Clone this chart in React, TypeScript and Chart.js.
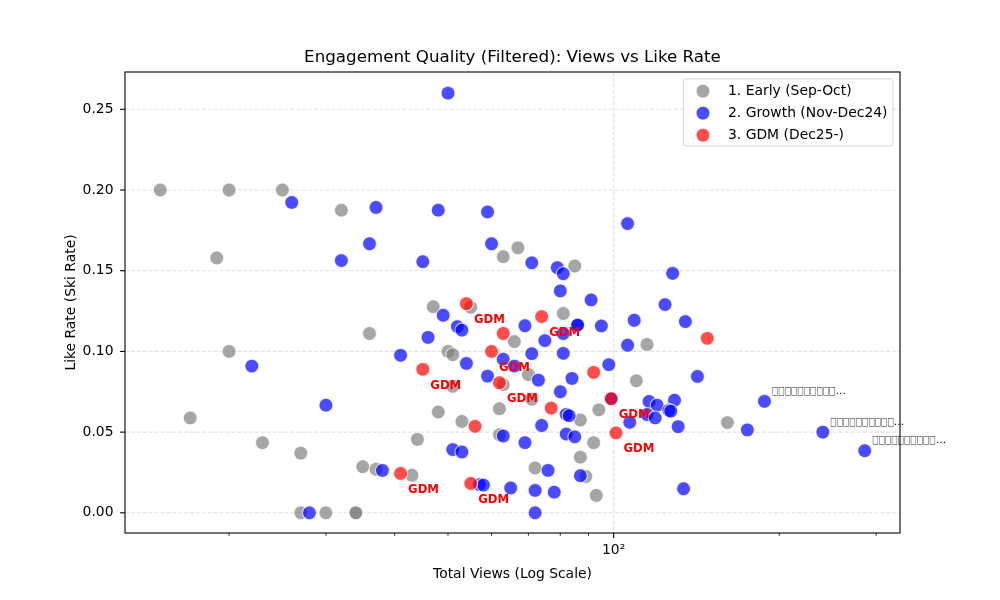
import { useEffect, useRef } from "react";
import { Chart, registerables } from "chart.js";

Chart.register(...registerables);

// ---------- data ----------
const SERIES_LABELS = ["1. Early (Sep-Oct)", "2. Growth (Nov-Dec24)", "3. GDM (Dec25-)"];

const EARLY_VIEWS = [15, 20, 25, 32, 19, 36, 20, 17, 23, 27, 35, 37, 43, 27, 30, 34, 34, 47, 55, 50, 51, 51, 63, 66, 70, 71, 48, 62, 53, 62, 44, 72, 63, 67, 85, 81, 115, 110, 87, 94, 92, 87, 89, 93, 161];
const EARLY_RATES = [0.2, 0.2, 0.2, 0.1875, 0.1579, 0.1111, 0.1, 0.0588, 0.0435, 0.037, 0.0286, 0.027, 0.0233, 0, 0, 0, 0, 0.1277, 0.1273, 0.1, 0.098, 0.0784, 0.0794, 0.1061, 0.0857, 0.0704, 0.0625, 0.0645, 0.0566, 0.0484, 0.0455, 0.0278, 0.1587, 0.1642, 0.1529, 0.1235, 0.1043, 0.0818, 0.0575, 0.0638, 0.0435, 0.0345, 0.0225, 0.0108, 0.0559];

const GROWTH_VIEWS = [26, 37, 36, 32, 41, 22, 30, 38, 28, 50, 48, 59, 106, 60, 45, 71, 79, 81, 128, 80, 91, 49, 52, 53, 46, 69, 75, 54, 63, 66, 71, 81, 59, 73, 74, 63, 69, 51, 53, 76, 57, 58, 65, 72, 78, 72, 80, 84, 82, 83, 82, 85, 87, 86, 86, 95, 81, 124, 135, 109, 106, 98, 142, 99, 116, 120, 129, 126, 127, 115, 119, 107, 131, 134, 175, 188, 240, 286];
const GROWTH_RATES = [0.1923, 0.1892, 0.1667, 0.1563, 0.0976, 0.0909, 0.0667, 0.0263, 0, 0.26, 0.1875, 0.1864, 0.1792, 0.1667, 0.1556, 0.1549, 0.1519, 0.1481, 0.1484, 0.1375, 0.1319, 0.1224, 0.1154, 0.1132, 0.1087, 0.1159, 0.1067, 0.0926, 0.0952, 0.0909, 0.0986, 0.0988, 0.0847, 0.0822, 0.0541, 0.0476, 0.0435, 0.0392, 0.0377, 0.0263, 0.0175, 0.0172, 0.0154, 0.0139, 0.0128, 0, 0.075, 0.0833, 0.061, 0.0602, 0.0488, 0.0471, 0.023, 0.1163, 0.1163, 0.1158, 0.1111, 0.129, 0.1185, 0.1193, 0.1038, 0.0918, 0.0845, 0.0707, 0.069, 0.0667, 0.0698, 0.0635, 0.063, 0.0609, 0.0588, 0.0561, 0.0534, 0.0149, 0.0514, 0.0691, 0.05, 0.0385];

const GDM_VIEWS = [54, 63, 74, 60, 45, 62, 92, 148, 99, 77, 56, 101, 41, 55];
const GDM_RATES = [0.1296, 0.1111, 0.1216, 0.1, 0.0889, 0.0806, 0.087, 0.1081, 0.0707, 0.0649, 0.0536, 0.0495, 0.0244, 0.0182];
const GDM_LABELED = [true, false, true, true, true, true, false, false, true, false, false, true, true, true];
const GDM_LABEL = "GDM";

// titles of the three most viewed videos (their glyphs are missing in the original render)
const TOP_TITLES = ["□□□□□□□□□□...", "□□□□□□□□□□...", "□□□□□□□□□□..."];

const X_MAJOR_TICKS = [100];
const X_MINOR_TICKS = [20, 30, 40, 50, 60, 70, 80, 90, 200, 300];
const Y_TICKS = [0, 0.05, 0.1, 0.15, 0.2, 0.25];
const X_MIN = 12.94;
const X_MAX = 331.5;
const Y_MIN = -0.0125;
const Y_MAX = 0.2731;

const TITLE = "Engagement Quality (Filtered): Views vs Like Rate";
const X_TITLE = "Total Views (Log Scale)";
const Y_TITLE = "Like Rate (Ski Rate)";

// ---------- style ----------
const FONT = "'DejaVu Sans', sans-serif";
const COLORS = ["rgba(128,128,128,0.7)", "rgba(0,0,255,0.7)", "rgba(255,0,0,0.7)"];
const EDGE = "rgba(255,255,255,0.7)";
const GRID = "rgba(176,176,176,0.35)";
const RADIUS = 6.95;
const EDGE_W = 1.1;
const BOX_ADVANCE = 6.35; // width of each missing-glyph box in the reference

const toPoints = (xs: number[], ys: number[]) => xs.map((x, i) => ({ x, y: ys[i] }));

const decorPlugin = {
  id: "decor",
  beforeDatasetsDraw(chart: any) {
    const { ctx, chartArea: a, scales } = chart;
    const xs = scales.x, ys = scales.y;
    ctx.save();
    ctx.strokeStyle = GRID;
    ctx.lineWidth = 1.1;
    ctx.setLineDash([4.1, 1.8]);
    for (const v of Y_TICKS) {
      const py = ys.getPixelForValue(v);
      ctx.beginPath(); ctx.moveTo(a.left, py); ctx.lineTo(a.right, py); ctx.stroke();
    }
    for (const v of X_MAJOR_TICKS) {
      const px = xs.getPixelForValue(v);
      ctx.beginPath(); ctx.moveTo(px, a.top); ctx.lineTo(px, a.bottom); ctx.stroke();
    }
    ctx.restore();
  },
  afterDatasetsDraw(chart: any) {
    const { ctx, scales } = chart;
    const xs = scales.x, ys = scales.y;
    ctx.save();
    ctx.font = `bold 11.7px ${FONT}`;
    ctx.fillStyle = "red";
    ctx.textAlign = "left";
    ctx.textBaseline = "middle";
    GDM_VIEWS.forEach((v, i) => {
      if (!GDM_LABELED[i]) return;
      const px = xs.getPixelForValue(v);
      const py = ys.getPixelForValue(GDM_RATES[i]);
      ctx.fillText(GDM_LABEL, px + 7.5, py + 16.5);
    });
    // the three most viewed videos get their (truncated) title
    const all: { x: number; y: number }[] = [
      ...toPoints(EARLY_VIEWS, EARLY_RATES),
      ...toPoints(GROWTH_VIEWS, GROWTH_RATES),
      ...toPoints(GDM_VIEWS, GDM_RATES),
    ].sort((p, q) => q.x - p.x);
    ctx.fillStyle = "#111";
    ctx.font = `11.1px ${FONT}`;
    all.slice(0, TOP_TITLES.length).forEach((p, k) => {
      const px = xs.getPixelForValue(p.x) + 7.5;
      const py = ys.getPixelForValue(p.y) - 10.5;
      const t = TOP_TITLES[k];
      const cut = t.endsWith("...") ? t.length - 3 : t.length;
      const head = t.slice(0, cut);
      const tail = t.slice(cut);
      const hw = ctx.measureText(head).width;
      const target = BOX_ADVANCE * head.length;
      const sx = hw > 0 ? target / hw : 1;
      ctx.save();
      ctx.translate(px, py);
      ctx.scale(sx, 1);
      ctx.fillText(head, 0, 0);
      ctx.restore();
      ctx.fillText(tail, px + target, py);
    });
    ctx.restore();
  },
  afterDraw(chart: any) {
    const { ctx, chartArea: a, scales } = chart;
    const xs = scales.x, ys = scales.y;
    ctx.save();
    // title
    ctx.font = `16.7px ${FONT}`;
    ctx.fillStyle = "#000";
    ctx.textAlign = "center";
    ctx.textBaseline = "middle";
    ctx.fillText(TITLE, (a.left + a.right) / 2, 58);
    // spines
    ctx.strokeStyle = "#000";
    ctx.lineWidth = 1.1;
    ctx.strokeRect(a.left, a.top, a.right - a.left, a.bottom - a.top);
    // tick marks
    ctx.lineWidth = 1.1;
    for (const v of Y_TICKS) {
      const py = ys.getPixelForValue(v);
      ctx.beginPath(); ctx.moveTo(a.left - 4.9, py); ctx.lineTo(a.left, py); ctx.stroke();
    }
    for (const v of X_MAJOR_TICKS) {
      const px = xs.getPixelForValue(v);
      ctx.beginPath(); ctx.moveTo(px, a.bottom); ctx.lineTo(px, a.bottom + 4.9); ctx.stroke();
    }
    ctx.lineWidth = 0.8;
    for (const v of X_MINOR_TICKS) {
      const px = xs.getPixelForValue(v);
      ctx.beginPath(); ctx.moveTo(px, a.bottom); ctx.lineTo(px, a.bottom + 2.8); ctx.stroke();
    }
    // legend
    const fs = 13.9;
    ctx.font = `${fs}px ${FONT}`;
    const maxW = Math.max(...SERIES_LABELS.map((s) => ctx.measureText(s).width));
    const w = 44.5 + maxW + 5.6;
    const h = 67;
    const lx = a.right - 6.9 - w;
    const ly = a.top + 6.9;
    ctx.beginPath();
    ctx.roundRect(lx, ly, w, h, 2.8);
    ctx.fillStyle = "rgba(255,255,255,0.8)";
    ctx.fill();
    ctx.strokeStyle = "rgba(204,204,204,0.8)";
    ctx.lineWidth = 1;
    ctx.stroke();
    SERIES_LABELS.forEach((s, i) => {
      const cy = ly + 12.2 + i * 22;
      ctx.beginPath();
      ctx.arc(lx + 19.5, cy, RADIUS, 0, Math.PI * 2);
      ctx.fillStyle = COLORS[i];
      ctx.fill();
      ctx.strokeStyle = EDGE;
      ctx.lineWidth = EDGE_W;
      ctx.stroke();
      ctx.fillStyle = "#000";
      ctx.textAlign = "left";
      ctx.textBaseline = "middle";
      ctx.fillText(s, lx + 44.5, cy + 0.5);
    });
    ctx.restore();
  },
};

export default function App() {
  const ref = useRef<HTMLCanvasElement | null>(null);

  useEffect(() => {
    if (!ref.current) return;
    Chart.defaults.font.family = FONT;
    Chart.defaults.color = "#000";
    const mk = (label: string, xs: number[], ys: number[], i: number, order: number) => ({
      label,
      data: toPoints(xs, ys),
      backgroundColor: COLORS[i],
      borderColor: EDGE,
      borderWidth: EDGE_W,
      pointRadius: RADIUS,
      pointHoverRadius: RADIUS,
      order,
    });
    const chart = new Chart(ref.current, {
      type: "scatter",
      data: {
        datasets: [
          mk(SERIES_LABELS[0], EARLY_VIEWS, EARLY_RATES, 0, 3),
          mk(SERIES_LABELS[1], GROWTH_VIEWS, GROWTH_RATES, 1, 2),
          mk(SERIES_LABELS[2], GDM_VIEWS, GDM_RATES, 2, 1),
        ],
      },
      options: {
        responsive: false,
        animation: false,
        events: [],
        layout: { padding: { top: 72, left: 0, right: 100, bottom: 0 } },
        plugins: {
          legend: { display: false },
          tooltip: { enabled: false },
          title: { display: false },
        },
        scales: {
          x: {
            type: "logarithmic",
            min: X_MIN,
            max: X_MAX,
            bounds: "data",
            grid: { display: false, drawTicks: false },
            border: { display: false },
            afterBuildTicks: (s: any) => {
              s.ticks = [...X_MINOR_TICKS, ...X_MAJOR_TICKS].sort((p, q) => p - q).map((v) => ({ value: v, major: X_MAJOR_TICKS.includes(v) }));
            },
            afterFit: (s: any) => { s.height = 67; },
            ticks: {
              autoSkip: false,
              maxRotation: 0,
              padding: 9.2,
              color: "#000",
              font: { size: 13.9, family: FONT },
              callback: (v: any) => (X_MAJOR_TICKS.includes(Number(v)) ? "10²" : ""),
            },
            title: {
              display: true,
              text: X_TITLE,
              color: "#000",
              font: { size: 13.9, family: FONT },
              padding: { top: 0, bottom: 17.2 },
            },
          },
          y: {
            type: "linear",
            min: Y_MIN,
            max: Y_MAX,
            bounds: "data",
            grid: { display: false, drawTicks: false },
            border: { display: false },
            afterBuildTicks: (s: any) => {
              s.ticks = Y_TICKS.map((v) => ({ value: v }));
            },
            afterFit: (s: any) => { s.width = 125; },
            ticks: {
              autoSkip: false,
              padding: 11.5,
              color: "#000",
              font: { size: 13.9, family: FONT },
              callback: (v: any) => Number(v).toFixed(2),
            },
            title: {
              display: true,
              text: Y_TITLE,
              color: "#000",
              font: { size: 13.9, family: FONT },
              padding: { top: 62.7, bottom: 0 },
            },
          },
        },
      },
      plugins: [decorPlugin],
    } as any);
    return () => chart.destroy();
  }, []);

  return (
    <div style={{ position: "absolute", left: 0, top: 0, width: 1000, height: 600, background: "#fff" }}>
      <canvas ref={ref} width={1000} height={600} style={{ display: "block", width: 1000, height: 600 }} />
    </div>
  );
}
